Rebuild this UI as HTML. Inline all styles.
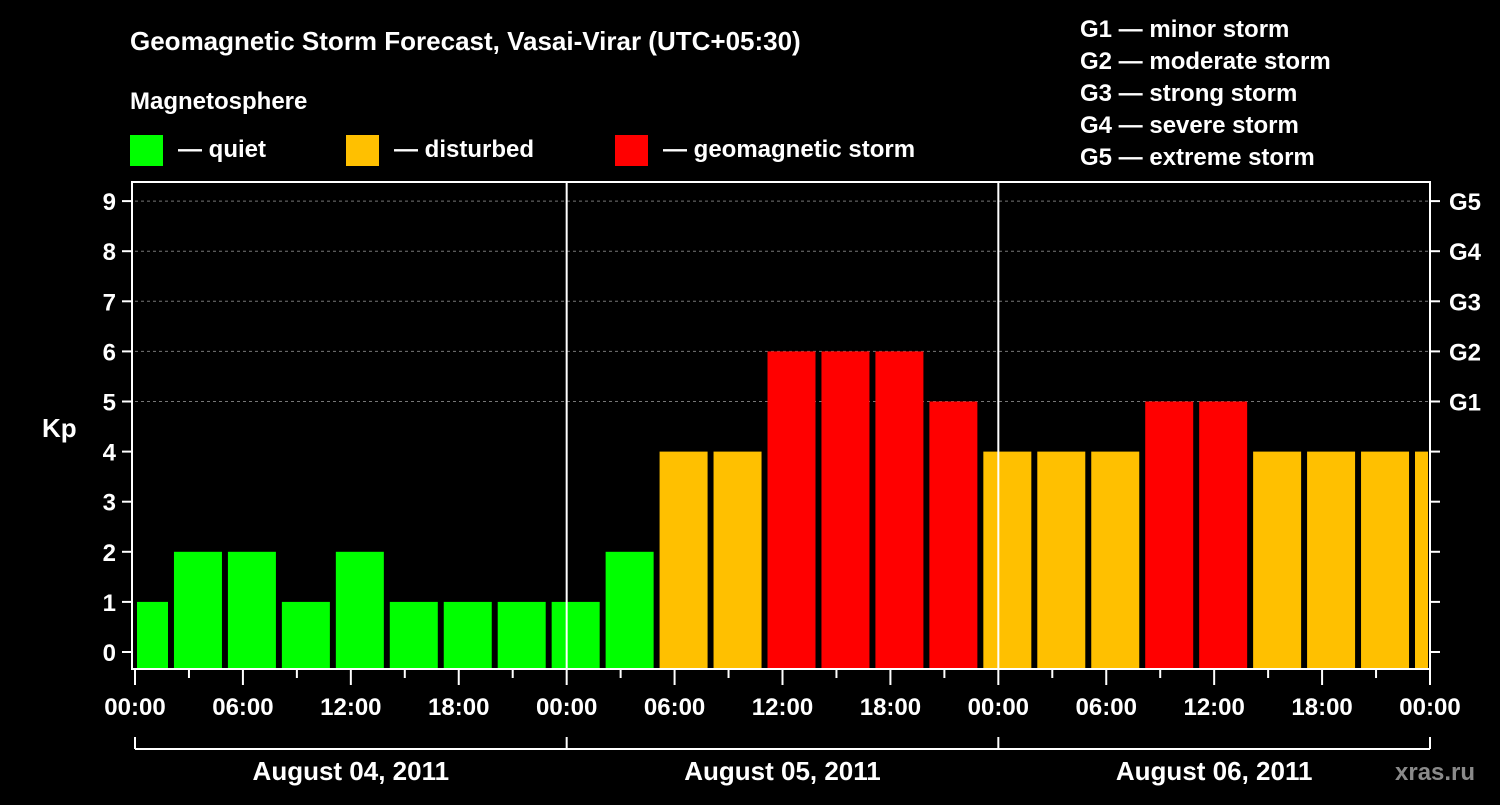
<!DOCTYPE html>
<html><head><meta charset="utf-8"><style>
body{margin:0;background:#000;width:1500px;height:800px;overflow:hidden}
svg text{font-family:"Liberation Sans",Arial,sans-serif;font-weight:bold;fill:#fff}
</style></head><body>
<svg id="chart" width="1500" height="800" xmlns="http://www.w3.org/2000/svg">
<text x="130" y="50" font-size="26">Geomagnetic Storm Forecast, Vasai-Virar (UTC+05:30)</text>
<text x="130" y="109" font-size="24">Magnetosphere</text>
<g><rect x="130" y="135" width="33" height="31" fill="#00ff00"/><text x="178" y="157" font-size="24">— quiet</text></g>
<g><rect x="346" y="135" width="33" height="31" fill="#ffc000"/><text x="394" y="157" font-size="24">— disturbed</text></g>
<g><rect x="615" y="135" width="33" height="31" fill="#ff0000"/><text x="663" y="157" font-size="24">— geomagnetic storm</text></g>
<g font-size="24">
<text x="1080" y="37">G1 — minor storm</text>
<text x="1080" y="69">G2 — moderate storm</text>
<text x="1080" y="101">G3 — strong storm</text>
<text x="1080" y="133">G4 — severe storm</text>
<text x="1080" y="165">G5 — extreme storm</text>
</g>
<text x="42" y="437" font-size="26">Kp</text>
<text x="1395" y="780" font-size="24" fill="#888" style="fill:#8a8a8a">xras.ru</text>
<g id="plot"></g>
</svg>
<script>
const kpValues=[1,2,2,1,2,1,1,1,1,2,4,4,6,6,6,5,4,4,4,5,5,4,4,4,4];
const yTicks=[0,1,2,3,4,5,6,7,8,9];
const gLabels=["G1","G2","G3","G4","G5"];
const gLevels=[5,6,7,8,9];
const xTickLabels=["00:00","06:00","12:00","18:00","00:00","06:00","12:00","18:00","00:00","06:00","12:00","18:00","00:00"];
const dayLabels=["August 04, 2011","August 05, 2011","August 06, 2011"];
const L=135,R=1430,T=182,B=668;
const dayW=(R-L)/3;
function y(v){return 652-v*50.1;}
function xh(h){return L+h*dayW/24;}
const NS="http://www.w3.org/2000/svg";
const g=document.getElementById('plot');
function mk(tag,attrs,parent){const e=document.createElementNS(NS,tag);for(const k in attrs)e.setAttribute(k,attrs[k]);(parent||g).appendChild(e);return e;}
// gridlines
gLevels.forEach(v=>{const l=mk('line',{x1:L,x2:R,y1:y(v),y2:y(v),stroke:'#777','stroke-dasharray':'3,3'});

});
// bars
kpValues.forEach((v,i)=>{
 const c=135+9+54*i*(dayW/432);
 let x0=Math.max(c-24,L+2),x1=Math.min(c+24,R-2);
 const col=v>=5?'#ff0000':(v>=3?'#ffc000':'#00ff00');
 const r=mk('rect',{x:x0,y:y(v),width:x1-x0,height:B-y(v),fill:col});
 
 
});
// day separators
[1,2].forEach(d=>{const l=mk('line',{x1:L+d*dayW,x2:L+d*dayW,y1:T,y2:B,stroke:'#fff','stroke-width':2});

});
// frame
const f=mk('rect',{x:132,y:T,width:R-132,height:B-T+1,fill:'none',stroke:'#fff','stroke-width':2});


// y ticks
yTicks.forEach(v=>{
 mk('line',{x1:122,x2:132,y1:y(v),y2:y(v),stroke:'#fff','stroke-width':2});
 mk('line',{x1:R,x2:R+10,y1:y(v),y2:y(v),stroke:'#fff','stroke-width':2});
 const t=mk('text',{x:116,y:y(v)+9,'font-size':24,'text-anchor':'end'});t.textContent=v;
 
 
});
gLabels.forEach((s,i)=>{const t=mk('text',{x:1449,y:y(gLevels[i])+9,'font-size':24});t.textContent=s;
 
 });
// x ticks
for(let h=0;h<=72;h+=3){const major=h%6===0;mk('line',{x1:xh(h),x2:xh(h),y1:B,y2:major?685:678,stroke:'#fff','stroke-width':2});}
xTickLabels.forEach((s,i)=>{const t=mk('text',{x:xh(i*6),y:715,'font-size':24,'text-anchor':'middle'});t.textContent=s;
 
 });
// bracket
mk('line',{x1:L,x2:R,y1:749,y2:749,stroke:'#fff','stroke-width':2});
for(let d=0;d<=3;d++)mk('line',{x1:L+d*dayW,x2:L+d*dayW,y1:737,y2:749,stroke:'#fff','stroke-width':2});
dayLabels.forEach((s,i)=>{const t=mk('text',{x:L+dayW*(i+0.5),y:780,'font-size':26,'text-anchor':'middle'});t.textContent=s;
 
 });
</script>
</body></html>
